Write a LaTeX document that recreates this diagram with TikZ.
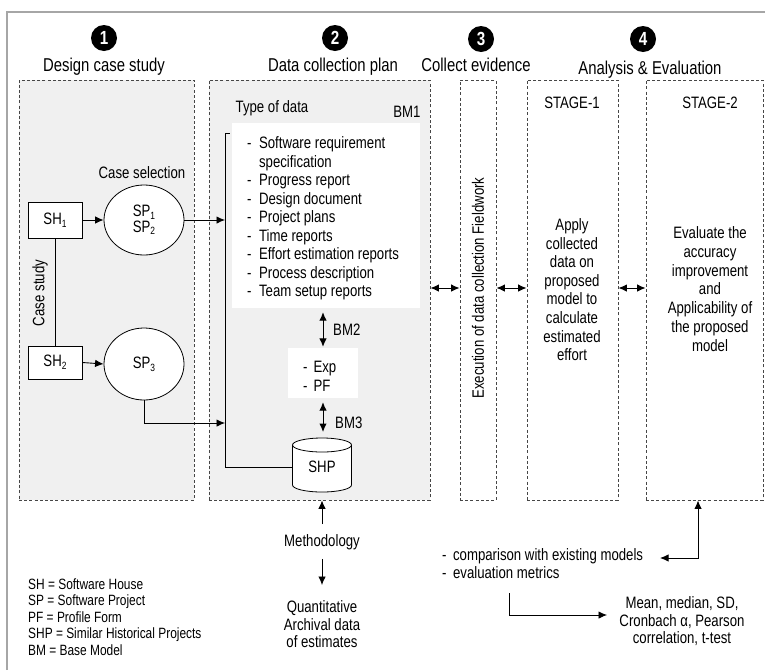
\documentclass[tikz,border=0pt]{standalone}
\usepackage{fontspec}
\setmainfont{Liberation Sans}[FakeStretch=0.8]
\usetikzlibrary{arrows.meta,shapes.geometric}
\newcommand\mysub[1]{\raisebox{-0.3ex}{\fontsize{10.5}{10.5}\selectfont #1}}
\newcommand\bodyfnt{\fontsize{16.5}{18.5}\selectfont}
\begin{document}
\begin{tikzpicture}[x=1pt,y=-1pt,
  every node/.style={font=\bodyfnt, inner sep=0pt},
  dbox/.style={draw=gray!55!black, dash pattern=on 3pt off 2.2pt, line width=0.9pt},
  arr/.style={-{Latex[length=8.5pt,width=7.5pt]}, line width=0.9pt},
  darr/.style={{Latex[length=8.5pt,width=7.5pt]}-{Latex[length=8.5pt,width=7.5pt]}, line width=1pt},
  numc/.style={circle, fill=black, text=white, minimum size=26pt, font=\fontsize{19}{19}\selectfont\bfseries},
  head/.style={font=\fontsize{18.6}{20}\selectfont},
  sq/.style={draw, line width=0.8pt, fill=white, minimum width=54pt},
  ell/.style={draw, ellipse, line width=0.8pt, fill=white, align=center, minimum width=80pt},
  lgd/.style={font=\fontsize{14.9}{16.6}\selectfont},
]
\useasboundingbox (0,0) rectangle (765,670);
\fill[white] (0,0) rectangle (765,670);
\draw[gray!70, line width=1.5pt] (7,670) -- (7,12) -- (765,12);

% phase boxes
\node[dbox, fill=gray!12, minimum width=175pt, minimum height=420pt] (b1) at (106.5,290) {};
\node[dbox, fill=gray!12, minimum width=221pt, minimum height=420pt] (b2) at (319.5,290) {};
\node[dbox, fill=white, minimum width=36pt, minimum height=420pt] (b3) at (478,290) {};
\node[dbox, fill=white, minimum width=91pt, minimum height=420pt] (b4) at (572.5,290) {};
\node[dbox, fill=white, minimum width=117pt, minimum height=420pt] (b5) at (704.5,290) {};

% headers
\node[numc] (n1) at (104,38) {1};
\node[head] (h1) at (104,67) {Design case study};
\node[numc] (n2) at (335,38) {2};
\node[head] (h2) at (333,67) {Data collection plan};
\node[numc] (n3) at (481,39) {3};
\node[head] (h3) at (476,65) {Collect evidence};
\node[numc] (n4) at (643,39) {4};
\node[head] (h4) at (650,70) {Analysis \& Evaluation};

% box 1 contents
\node (csel) at (142,173) {Case selection};
\node[sq, minimum height=36pt] (sh1) at (55,220) {SH\mysub{1}};
\node[sq, minimum height=33pt] (sh2) at (55,362.5) {SH\mysub{2}};
\node[ell, minimum height=70pt, font=\fontsize{16.5}{14}\selectfont] (sp12) at (144,220) {SP\mysub{1}\\SP\mysub{2}};
\node[ell, minimum height=72pt] (sp3) at (144,364) {SP\mysub{3}};
\node[rotate=90] (cstudy) at (40,293) {Case study};
\draw[line width=0.8pt] (sh1.south) -- (sh2.north);
\draw[arr] (sh1.east) -- (sp12.west);
\draw[arr] (sh2.east) -- (sp3.west);

% box 2 contents
\node (tod) at (272,108) {Type of data};
\node (bm1) at (407,112) {BM1};
\node[fill=white, minimum width=188pt, minimum height=185pt] (tbox) at (326,215.5) {};
\node[anchor=base west] (list) at (247,148.5) {\begin{tabular}[t]{@{}l@{\hspace{7.5pt}}l@{}}
-&Software requirement\\
 &specification\\
-&Progress report\\
-&Design document\\
-&Project plans\\
-&Time reports\\
-&Effort estimation reports\\
-&Process description\\
-&Team setup reports
\end{tabular}};
\node[fill=white, minimum width=70pt, minimum height=50pt] (epfbox) at (323,373) {};
\node[anchor=base west] (epf) at (303,372.5) {\begin{tabular}[t]{@{}l@{\hspace{6pt}}l@{}}
-&Exp\\ -&PF\end{tabular}};
\node[anchor=west] (bm2) at (333,330) {BM2};
\node[anchor=west] (bm3) at (335,423) {BM3};
\draw[darr, shorten <=4pt, shorten >=1pt] (epfbox.north |- tbox.south) -- (epfbox.north);
\draw[darr, shorten <=4pt, shorten >=6pt] (epfbox.south) -- (epfbox.south |- 0,438);

% SHP cylinder
\draw[line width=0.8pt, fill=white] (292.5,445) -- (292.5,485)
  arc[start angle=180, end angle=360, x radius=29.5pt, y radius=7pt] -- (351.5,445)
  arc[start angle=0, end angle=180, x radius=29.5pt, y radius=7pt] -- cycle;
\draw[line width=0.8pt] (292.5,445) arc[start angle=180, end angle=360, x radius=29.5pt, y radius=7pt];
\node[minimum width=59pt, minimum height=30pt] (shp) at (322,467) {SHP};

% bracket line and inputs
\coordinate (bt) at (225,133);
\coordinate (btr) at (230,133);
\coordinate (bb) at (225,467);
\coordinate (b423) at (225,423);
\draw[line width=0.8pt] (shp.west) -- (bb) -- (bt) -- (btr);
\draw[arr] (sp12.east) -- (sp12.east -| bt);
\draw[arr] (sp3.south) |- (b423);

% box 3, 4, 5 contents
\node[rotate=90] (exec) at (478,288) {Execution of data collection Fieldwork};
\node (st1) at (572,103) {STAGE-1};
\node (st2) at (710,103) {STAGE-2};
\node[anchor=base] (st1t) at (572,230.5) {\fontsize{16.5}{18.6}\selectfont\begin{tabular}[t]{@{}c@{}}
Apply\\ collected\\ data on\\ proposed\\ model to\\ calculate\\ estimated\\ effort\end{tabular}};
\node[anchor=base] (st2t) at (710,238.5) {\fontsize{16.5}{18.8}\selectfont\begin{tabular}[t]{@{}c@{}}
Evaluate the\\ accuracy\\ improvement\\ and\\ Applicability of\\ the proposed\\ model\end{tabular}};

% horizontal double arrows
\draw[darr] (b2.east |- 0,288) -- (b3.west |- 0,288);
\draw[darr] (b3.east |- 0,288) -- (b4.west |- 0,288);
\draw[darr] (b4.east |- 0,288) -- (b5.west |- 0,288);

% methodology
\node (meth) at (322,542) {Methodology};
\node[anchor=base] (quant) at (322,612.5) {\fontsize{16.5}{17.5}\selectfont\begin{tabular}[t]{@{}c@{}}
Quantitative\\ Archival data\\ of estimates\end{tabular}};
\draw[arr, shorten <=10pt] (meth.north) -- (b2.south -| meth.north);
\draw[arr, shorten <=9pt, shorten >=11pt] (meth.south) -- (quant.north |- 0,596);

% legend
\node[anchor=base west, lgd] (legend) at (28,589) {\begin{tabular}[t]{@{}l@{}}
SH = Software House\\
SP = Software Project\\
PF = Profile Form\\
SHP = Similar Historical Projects\\
BM = Base Model\end{tabular}};

% evaluation
\node[anchor=base west] (cmp) at (442,560.5) {\fontsize{16.5}{18}\selectfont\begin{tabular}[t]{@{}l@{\hspace{6.5pt}}l@{}}
-&comparison with existing models\\
-&evaluation metrics\end{tabular}};
\coordinate (cl) at (660,558);
\coordinate (cc) at (698,558);
\draw[darr] (cl) -- (cc) -- (b5.south -| cc);
\node[anchor=base] (stats) at (682,608.5) {\fontsize{16.5}{17.5}\selectfont\begin{tabular}[t]{@{}c@{}}
Mean, median, SD,\\ Cronbach α, Pearson\\ correlation, t-test\end{tabular}};
\coordinate (ms) at (509,593);
\coordinate (me) at (607,615);
\draw[arr] (ms) |- (me);
\end{tikzpicture}
\end{document}
